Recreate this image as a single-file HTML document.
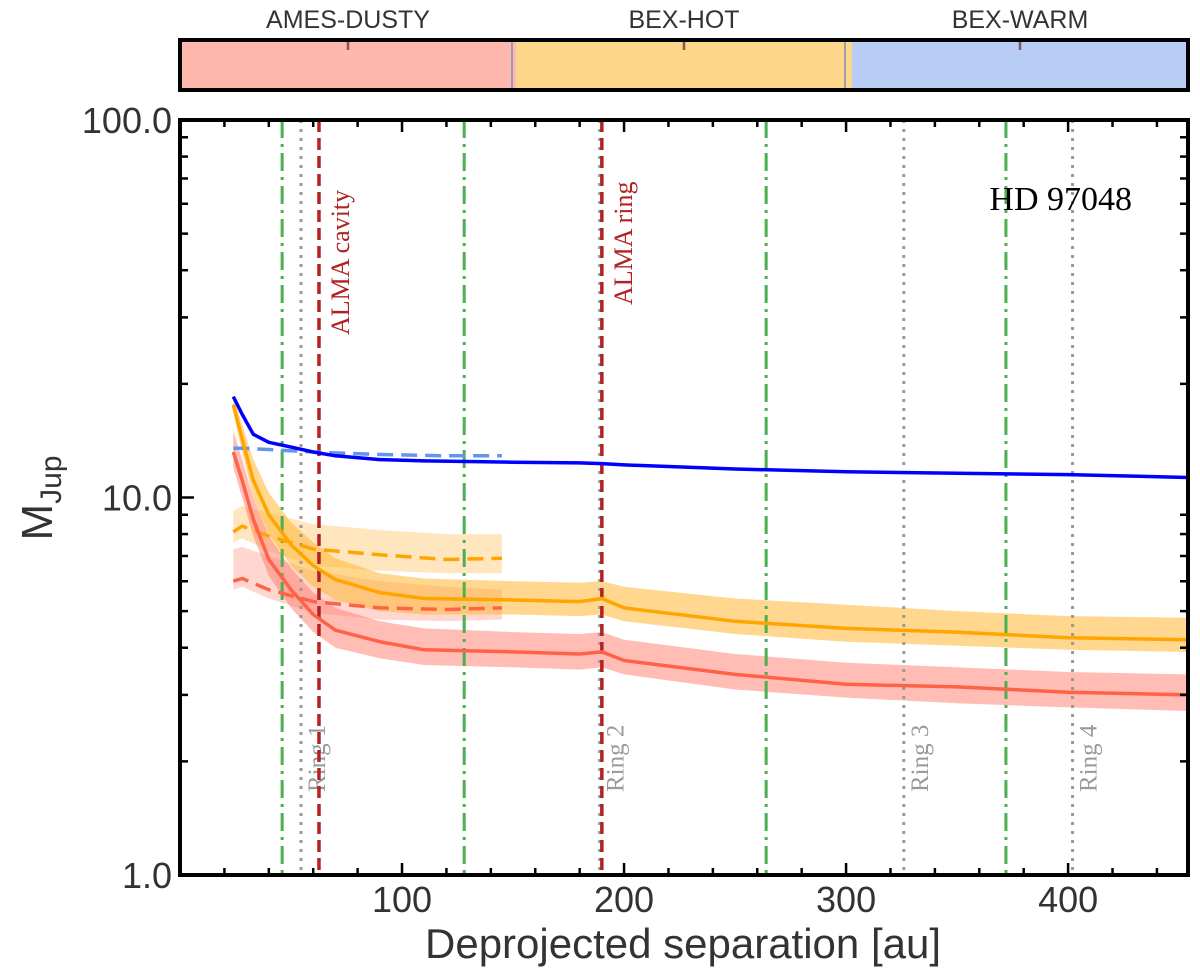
<!DOCTYPE html>
<html><head><meta charset="utf-8"><style>body{margin:0;background:#fff}svg{display:block}</style></head>
<body>
<svg id="c" width="1200" height="975" xmlns="http://www.w3.org/2000/svg"></svg>
<script>
const xs = [24,28,33,40,50,60,70,90,110,150,180,190,200,250,300,350,400,454];
const blueSolid = [18.5,16.6,14.7,14,13.6,13.2,12.9,12.6,12.5,12.4,12.35,12.3,12.2,11.9,11.7,11.6,11.5,11.3];
const orangeSolid = [17.6,14.3,11.1,9.0,7.5,6.6,6.06,5.6,5.4,5.35,5.3,5.4,5.1,4.7,4.5,4.4,4.25,4.2];
const orangeHi = [18.5,15.6,12.6,10.3,8.6,7.6,6.9,6.3,6.1,6.0,5.95,6.0,5.8,5.4,5.2,5.0,4.85,4.8];
const orangeLo = [16.8,13.2,10.0,8.0,6.6,5.8,5.35,5.0,4.9,4.9,4.85,4.9,4.7,4.35,4.15,4.05,3.95,3.9];
const redSolid = [13.2,11.1,8.75,6.85,5.7,4.9,4.45,4.15,3.95,3.9,3.85,3.9,3.7,3.4,3.2,3.15,3.05,3.0];
const redHi = [15.0,12.6,10.0,7.9,6.5,5.6,5.1,4.7,4.5,4.4,4.35,4.4,4.2,3.85,3.65,3.55,3.45,3.4];
const redLo = [12.0,10.0,7.9,6.2,5.1,4.4,4.0,3.75,3.6,3.55,3.5,3.55,3.4,3.1,2.95,2.85,2.78,2.72];
const xsd = [24,28,40,60,90,120,145];
const blueDash = [13.5,13.5,13.4,13.2,13.0,12.9,12.9];
const orangeDash = [8.1,8.4,7.9,7.3,7.05,6.85,6.9];
const orangeDashHi = [9.2,9.5,9.1,8.5,8.2,8.0,8.0];
const orangeDashLo = [7.6,7.8,7.2,6.6,6.4,6.3,6.3];
const redDash = [6.0,6.1,5.7,5.3,5.1,5.05,5.1];
const redDashHi = [7.3,7.4,7.0,6.4,6.0,5.8,5.7];
const redDashLo = [5.7,5.8,5.4,4.95,4.75,4.7,4.75];
const greenLines = [46,128,264,372];
const grayLines = [54.5,189,326,402];
const ringLabels = ["Ring 1","Ring 2","Ring 3","Ring 4"];
const redLines = [62.6,190];
const redLabels = ["ALMA cavity","ALMA ring"];
const xTicks = [100,200,300,400];
const yTicks = [1,10,100];
const yTickLabels = ["1.0","10.0","100.0"];
const cbLabels = ["AMES-DUSTY","BEX-HOT","BEX-WARM"];

const L=180,R=1188,T=120,B=875,X0=0,X1=454;
const X=v=>L+(v-X0)/(X1-X0)*(R-L);
const Y=v=>B-(Math.log10(v))/2*(B-T);
const svg=document.getElementById('c');const NS='http://www.w3.org/2000/svg';
function mk(t,a,p){const e=document.createElementNS(NS,t);for(const k in a)e.setAttribute(k,a[k]);(p||svg).appendChild(e);return e;}
const FS='"Liberation Sans",sans-serif', SF='"Liberation Serif",serif';

// colorbar
const cbCols=['#ffb8ad','#fed68a','#b8cdf5'];
for(let i=0;i<3;i++){
  const x0=L+i*(R-L)/3;
  const r=mk('rect',{x:x0,y:40,width:(R-L)/3,height:50,fill:cbCols[i]});
  
  const t=mk('text',{x:x0+(R-L)/6,y:28,'font-family':FS,'font-size':25,fill:'#333','text-anchor':'middle'});
  t.textContent=cbLabels[i];
  mk('line',{x1:x0+(R-L)/6,x2:x0+(R-L)/6,y1:42,y2:50,stroke:'#855','stroke-width':2.5});
}
mk('line',{x1:512,x2:512,y1:41,y2:89,stroke:'#7890c0','stroke-width':1.5});
mk('line',{x1:845,x2:845,y1:41,y2:89,stroke:'#7890c0','stroke-width':1.5});
const cbf=mk('rect',{x:L,y:40,width:R-L,height:50,fill:'none',stroke:'#000','stroke-width':4});


function pathOf(xa,ya){return xa.map((x,i)=>(i?'L':'M')+X(x).toFixed(1)+','+Y(ya[i]).toFixed(1)).join('');}
function band(xa,hi,lo,fill,op,name){
  let d=pathOf(xa,hi);for(let i=xa.length-1;i>=0;i--)d+='L'+X(xa[i]).toFixed(1)+','+Y(lo[i]).toFixed(1);
  const p=mk('path',{d:d+'Z',fill:fill,'fill-opacity':op,stroke:'none'});
  }
function line(xa,ya,col,dash,name,w){
  const p=mk('path',{d:pathOf(xa,ya),fill:'none',stroke:col,'stroke-width':w||3.5,'stroke-dasharray':dash||'none','stroke-linejoin':'round'});
  }

band(xsd,orangeDashHi,orangeDashLo,'#ffc870',0.45,'bex-hot-dashed-band');
band(xsd,redDashHi,redDashLo,'#ff9a8a',0.4,'ames-dusty-dashed-band');
band(xs,orangeHi,orangeLo,'#ffb733',0.55,'bex-hot-band');
band(xs,redHi,redLo,'#ff7b6b',0.5,'ames-dusty-band');

// vertical lines
greenLines.forEach(v=>{const l=mk('line',{x1:X(v),x2:X(v),y1:T,y2:B,stroke:'#4caf50','stroke-width':3,'stroke-dasharray':'18,6,3,6'});
  });
grayLines.forEach((v,i)=>{const l=mk('line',{x1:X(v),x2:X(v),y1:T,y2:B,stroke:'#999','stroke-width':3,'stroke-dasharray':'3,6'});
  
  const tx=X(v)+24;const t=mk('text',{x:0,y:0,transform:`translate(${tx},792) rotate(-90)`,'font-family':SF,'font-size':25,fill:'#999'});
  t.textContent=ringLabels[i];});
redLines.forEach((v,i)=>{const l=mk('line',{x1:X(v),x2:X(v),y1:T,y2:B,stroke:'#b22222','stroke-width':3.5,'stroke-dasharray':'12,6'});
  
  const tx=X(v)+30;const t=mk('text',{x:0,y:0,transform:`translate(${tx},${i?305:335}) rotate(-90)`,'font-family':SF,'font-size':26,fill:'#b22222'});
  t.textContent=redLabels[i];});

line(xsd,blueDash,'#6495ed','16,8','bex-warm-dashed');
line(xsd,orangeDash,'#ffa500','16,8','bex-hot-dashed');
line(xsd,redDash,'#ff6347','16,8','ames-dusty-dashed');
line(xs,blueSolid,'#0000ff',null,'bex-warm-line');
line(xs,orangeSolid,'#ffa500',null,'bex-hot-line');
line(xs,redSolid,'#ff6347',null,'ames-dusty-line');

// axes frame
const fr=mk('rect',{x:L,y:T,width:R-L,height:B-T,fill:'none',stroke:'#000','stroke-width':4});

for(let v=20;v<X1;v+=20){const maj=v%100===0;
  mk('line',{x1:X(v),x2:X(v),y1:B,y2:B-(maj?12:7),stroke:'#000','stroke-width':2.5});
  mk('line',{x1:X(v),x2:X(v),y1:T,y2:T+(maj?12:7),stroke:'#000','stroke-width':2.5});}
for(let d=1;d<100;d*=10)for(let m=2;m<10;m++){const y=Y(d*m);
  mk('line',{x1:L,x2:L+8,y1:y,y2:y,stroke:'#000','stroke-width':2.5});mk('line',{x1:R,x2:R-8,y1:y,y2:y,stroke:'#000','stroke-width':2.5});}
yTicks.forEach((v,i)=>{mk('line',{x1:L,x2:L+14,y1:Y(v),y2:Y(v),stroke:'#000','stroke-width':2.5});
  const t=mk('text',{x:172,y:Y(v)+13,'font-family':FS,'font-size':36,fill:'#333','text-anchor':'end'});
  t.textContent=yTickLabels[i];});
xTicks.forEach(v=>{const t=mk('text',{x:X(v),y:912,'font-family':FS,'font-size':36,fill:'#333','text-anchor':'middle'});
  t.textContent=v;});
const xt=mk('text',{x:683,y:958,'font-family':FS,'font-size':42,fill:'#333','text-anchor':'middle'});
xt.textContent='Deprojected separation [au]';
const yt=mk('text',{x:0,y:0,transform:'translate(52,498) rotate(-90)','font-family':FS,'font-size':44,fill:'#333','text-anchor':'middle'});
yt.innerHTML='M<tspan font-size="30" dy="9">Jup</tspan>';
const hd=mk('text',{x:1132,y:210,'font-family':SF,'font-size':34,fill:'#000','text-anchor':'end'});
hd.textContent='HD 97048';
</script>
</body></html>
